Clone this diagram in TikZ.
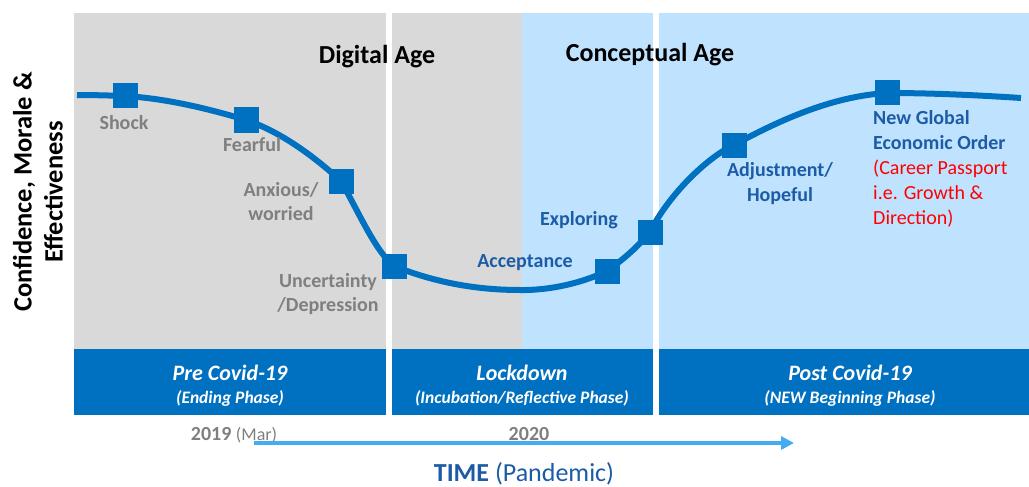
\documentclass[tikz,border=0pt]{standalone}
\usepackage{fontspec}
\setmainfont{Carlito}
\usetikzlibrary{arrows.meta}

\definecolor{curveblue}{HTML}{0070C0}
\definecolor{phasegray}{HTML}{D9D9D9}
\definecolor{phaselight}{HTML}{BFE3FF}
\definecolor{labelgray}{HTML}{7F7F7F}
\definecolor{labelblue}{HTML}{1C5CA6}
\definecolor{timeblue}{HTML}{45ACF3}

\tikzset{
  stage/.style={fill=curveblue,minimum size=25pt,inner sep=0pt},
  graylabel/.style={text=labelgray,font=\fontsize{20}{24}\selectfont\bfseries,align=center,inner sep=0pt},
  bluelabel/.style={text=labelblue,font=\fontsize{20}{25}\selectfont\bfseries,align=center,inner sep=0pt},
  agetitle/.style={font=\fontsize{26}{30}\selectfont\bfseries,inner sep=0pt},
  phasetitle/.style={text=white,font=\fontsize{22}{24}\selectfont\bfseries\itshape,inner sep=0pt},
  phasesub/.style={text=white,font=\fontsize{17.5}{19}\selectfont\bfseries\itshape,inner sep=0pt}
}

\begin{document}
\begin{tikzpicture}[x=1pt,y=-1pt]
\useasboundingbox (0,0) rectangle (1029,487);

% Phase panels
\fill[phasegray] (74,13) rectangle (386,349);
\fill[phasegray] (392,13) rectangle (522,349);
\fill[phaselight] (522,13) rectangle (653,349);
\fill[phaselight] (659,13) rectangle (1029,349);

% Phase bars
\fill[curveblue] (74,349) rectangle (386,415);
\fill[curveblue] (392,349) rectangle (653,415);
\fill[curveblue] (659,349) rectangle (1029,415);

\foreach \i/\x/\title/\sub in {pre/230/Pre Covid-19/(Ending Phase),
    lock/522/Lockdown/{(Incubation/Reflective Phase)},
    post/850/Post Covid-19/(NEW Beginning Phase)} {
  \node[phasetitle] (\i title) at (\x,373) {\title};
  \node[phasesub] (\i sub) at (\x,398) {\sub};
}

% Age titles
\node[agetitle] (digital) at (377,57) {Digital Age};
\node[agetitle] (conceptual) at (650,55) {Conceptual Age};

% Vertical axis
\node[rotate=90,align=center,font=\fontsize{26.5}{31}\selectfont\bfseries] (yaxis) at (38,192)
  {Confidence, Morale \&\\Effectiveness};

% Stages on the curve
\coordinate (curvestart) at (77,95);
\coordinate (shock) at (125,96);
\coordinate (fearful) at (246,120);
\coordinate (anxious) at (341,181);
\coordinate (uncertainty) at (394,266);
\coordinate (trough) at (520,290);
\coordinate (acceptance) at (607,271);
\coordinate (exploring) at (650,232);
\coordinate (adjustment) at (734,145);
\coordinate (newglobal) at (887,93);
\coordinate (curveend) at (1021,98);

\draw[curveblue,line width=6pt]
  (curvestart) .. controls (93,95) and (109,95.5) .. (shock)
  .. controls (165,98.4) and (206,108) .. (fearful)
  .. controls (278,131) and (309,152) .. (anxious)
  .. controls (359,213) and (376,252) .. (uncertainty)
  .. controls (436,283) and (478,290) .. (trough)
  .. controls (550,290.5) and (582,283) .. (acceptance)
  .. controls (621,261) and (636,249) .. (exploring)
  .. controls (668,196) and (706,158) .. (adjustment)
  .. controls (785,117) and (836,96) .. (newglobal)
  .. controls (930,93) and (975,95) .. (curveend);

\foreach \s in {shock,fearful,anxious,uncertainty,acceptance,exploring,adjustment,newglobal}
  \node[stage] (\s sq) at (\s) {};

% Stage labels
\node[graylabel] (shocklabel) at (124,123) {Shock};
\node[graylabel] (fearfullabel) at (252,145) {Fearful};
\node[graylabel] (anxiouslabel) at (281,202) {Anxious/\\worried};
\node[graylabel] (uncertaintylabel) at (328,294) {Uncertainty\\/Depression};
\node[bluelabel] (acceptancelabel) at (525,263) {Acceptance};
\node[bluelabel] (exploringlabel) at (579,220) {Exploring};
\node[bluelabel] (adjustmentlabel) at (780,184) {Adjustment/\\Hopeful};
\node[bluelabel,align=left,anchor=west] (newgloballabel) at (873,169)
  {New Global\\Economic Order\\\textcolor{red}{\mdseries(Career Passport}\\
   \textcolor{red}{\mdseries i.e. Growth \&}\\\textcolor{red}{\mdseries Direction)}};

% Time axis
\node[text=labelgray,font=\fontsize{20}{24}\selectfont,inner sep=0pt] (year19) at (234,435)
  {\textbf{2019} {\fontsize{18}{20}\selectfont(Mar)}};
\node[text=labelgray,font=\fontsize{20}{24}\selectfont\bfseries,inner sep=0pt] (year20) at (529,434) {2020};
\coordinate (timestart) at (254,443);
\coordinate (timeend) at (794,443);
\draw[timeblue,line width=3.5pt,-{Triangle[length=13pt,width=13pt]}] (timestart) -- (timeend);
\node[text=labelblue,font=\fontsize{26}{30}\selectfont,inner sep=0pt] (timelabel) at (524,474)
  {\textbf{TIME} (Pandemic)};
\end{tikzpicture}
\end{document}
